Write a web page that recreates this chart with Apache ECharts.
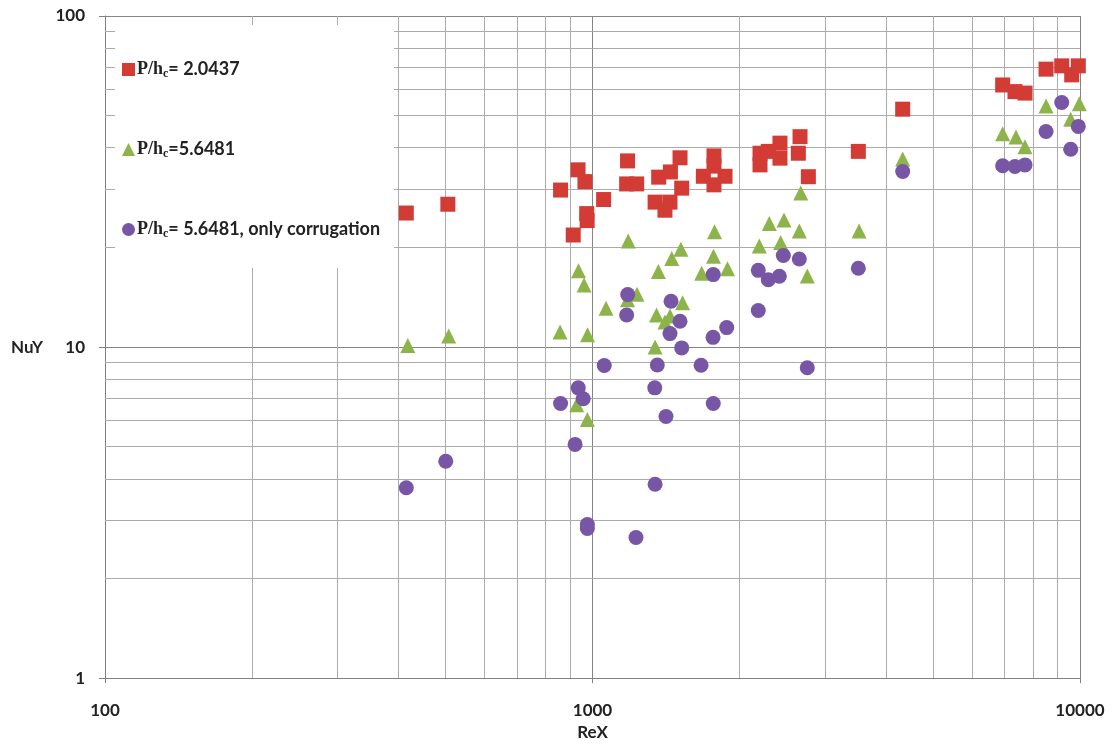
<!DOCTYPE html>
<html>
<head>
<meta charset="utf-8">
<title>NuY vs ReX</title>
<script src="https://cdn.jsdelivr.net/npm/echarts@6/dist/echarts.min.js"></script>
<style>
  html, body { margin: 0; padding: 0; background: #ffffff; }
  #chart { width: 1114px; height: 746px; }
</style>
</head>
<body>
<div id="chart"></div>
<script>
// Series names
const seriesNames = ['P/hc= 2.0437', 'P/hc=5.6481', 'P/hc= 5.6481, only corrugation'];

// P/hc = 2.0437
const reRed = [415, 505, 860, 934, 965, 973, 975, 913, 1054, 1180, 1175, 1232, 1367, 1445, 1512, 1524, 1344, 1442, 1408, 1775, 1775, 1688, 1870, 1775, 2206, 2206, 2424, 2424, 2294, 2665, 2644, 2772, 3510, 4328, 6940, 7355, 7713, 8518, 9173, 9616, 9920];
const nuRed = [25.4, 27.0, 29.8, 34.3, 31.6, 25.3, 24.1, 21.8, 27.9, 36.5, 31.1, 31.1, 32.6, 33.8, 37.3, 30.2, 27.4, 27.4, 25.9, 37.8, 35.2, 32.8, 32.8, 30.9, 38.5, 35.5, 41.3, 37.2, 39.0, 43.2, 38.5, 32.7, 39.0, 52.3, 61.9, 59.1, 58.5, 69.1, 70.7, 66.4, 70.7];

// P/hc = 5.6481
const reGreen = [418, 507, 858, 977, 936, 961, 1066, 1184, 1234, 1180, 1344, 1353, 1365, 1408, 1442, 1454, 1518, 1530, 1675, 1780, 1771, 1892, 928, 976, 2199, 2305, 2471, 2432, 2674, 2656, 2758, 3522, 4328, 6940, 7391, 7713, 8518, 9570, 9968];
const nuGreen = [10.1, 10.8, 11.1, 10.9, 17.0, 15.4, 13.1, 20.9, 14.45, 13.9, 10.0, 12.5, 16.9, 11.9, 12.4, 18.5, 19.75, 13.6, 16.7, 22.3, 18.8, 17.25, 6.7, 6.04, 20.2, 23.6, 24.2, 20.7, 29.2, 22.4, 16.4, 22.4, 37.0, 44.1, 43.1, 40.3, 53.5, 48.8, 54.3];

// P/hc = 5.6481, only corrugation
const rePurple = [415, 500, 860, 935, 957, 921, 976, 976, 1057, 1358, 1342, 1415, 1344, 1228, 1670, 1769, 1524, 1442, 1767, 1885, 1181, 1175, 1449, 1512, 1769, 2188, 2463, 2656, 2294, 2417, 2188, 2758, 3510, 4328, 6940, 7355, 7713, 8518, 9173, 9570, 9920];
const nuPurple = [3.76, 4.52, 6.75, 7.53, 6.98, 5.08, 2.91, 2.83, 8.8, 8.83, 7.53, 6.17, 3.85, 2.66, 8.81, 6.75, 9.94, 10.98, 10.7, 11.45, 14.4, 12.5, 13.75, 11.96, 16.55, 17.05, 18.9, 18.45, 15.98, 16.36, 12.89, 8.66, 17.3, 33.9, 35.3, 35.1, 35.5, 44.8, 54.8, 39.6, 46.4];

// Log-decade minor grid positions
const minorX = [200, 300, 400, 500, 600, 700, 800, 900, 2000, 3000, 4000, 5000, 6000, 7000, 8000, 9000];
const minorY = [2, 3, 4, 5, 6, 7, 8, 9, 20, 30, 40, 50, 60, 70, 80, 90];

const pairs = (xs, ys) => xs.map((x, i) => [x, ys[i]]);

const legendRich = {
  'P/hc= 2.0437': '{p|P/h}{c|c}{v|= 2.0437}',
  'P/hc=5.6481': '{p|P/h}{c|c}{v|=5.6481}',
  'P/hc= 5.6481, only corrugation': '{p|P/h}{c|c}{v|= 5.6481, only corrugation}'
};

const labelFont = 'Lato, "Open Sans", sans-serif';
const majorGrid = '#858585';
const minorGrid = '#ababab';

const chart = echarts.init(document.getElementById('chart'), null, { renderer: 'canvas' });

chart.setOption({
  animation: false,
  backgroundColor: '#ffffff',
  grid: { left: 105, right: 34, top: 16, bottom: 67, containLabel: false },
  legend: {
    data: seriesNames,
    orient: 'vertical',
    left: 115,
    top: 25,
    padding: [34, 14, 28, 7],
    itemGap: 59,
    itemWidth: 13,
    itemHeight: 13,
    backgroundColor: '#ffffff',
    z: 6,
    selectedMode: false,
    formatter: name => legendRich[name],
    textStyle: {
      color: '#222222',
      padding: [0, 0, 0, -3],
      rich: {
        p: { fontFamily: '"Liberation Serif", "DejaVu Serif", serif', fontWeight: 'bold', fontSize: 18, color: '#222222', lineHeight: 20 },
        c: { fontFamily: '"Liberation Serif", "DejaVu Serif", serif', fontWeight: 'bold', fontSize: 12, color: '#222222', padding: [9, 0, 0, 0], lineHeight: 20 },
        v: { fontFamily: labelFont, fontWeight: 'bold', fontSize: 18, color: '#222222', lineHeight: 20 }
      }
    }
  },
  xAxis: {
    type: 'log',
    logBase: 10,
    min: 100,
    max: 10000,
    name: 'ReX',
    nameLocation: 'middle',
    nameGap: 45,
    nameTextStyle: { fontFamily: labelFont, fontWeight: 'bold', fontSize: 17, color: '#222222' },
    axisLine: { show: true, onZero: false, lineStyle: { color: '#808080', width: 1 } },
    axisTick: { show: true, inside: false, length: 5, lineStyle: { color: '#808080' } },
    axisLabel: {
      margin: 24,
      fontFamily: labelFont, fontWeight: 'bold', fontSize: 17, color: '#222222',
      formatter: v => String(Math.round(v))
    },
    splitLine: { show: true, lineStyle: { color: majorGrid, width: 1 } }
  },
  yAxis: {
    type: 'log',
    logBase: 10,
    min: 1,
    max: 100,
    name: 'NuY',
    nameLocation: 'middle',
    nameRotate: 0,
    nameGap: 62,
    nameTextStyle: { fontFamily: labelFont, fontWeight: 'bold', fontSize: 17, color: '#222222' },
    axisLine: { show: true, onZero: false, lineStyle: { color: '#808080', width: 1 } },
    axisTick: { show: true, inside: false, length: 6, lineStyle: { color: '#808080' } },
    axisLabel: {
      margin: 20,
      fontFamily: labelFont, fontWeight: 'bold', fontSize: 17, color: '#222222',
      formatter: v => String(Math.round(v))
    },
    splitLine: { show: true, lineStyle: { color: majorGrid, width: 1 } }
  },
  series: [
    {
      // minor log gridlines
      name: 'minor-grid',
      type: 'scatter',
      data: [],
      z: 1,
      silent: true,
      markLine: {
        silent: true,
        symbol: ['none', 'none'],
        label: { show: false },
        lineStyle: { color: minorGrid, width: 1, type: 'solid' },
        emphasis: { disabled: true },
        data: minorX.map(v => ({ xAxis: v })).concat(minorY.map(v => ({ yAxis: v })))
      }
    },
    {
      name: seriesNames[0],
      type: 'scatter',
      symbol: 'rect',
      symbolSize: 15,
      z: 5,
      itemStyle: { color: '#d23c35', opacity: 1 },
      data: pairs(reRed, nuRed)
    },
    {
      name: seriesNames[1],
      type: 'scatter',
      symbol: 'triangle',
      symbolSize: 15,
      z: 5,
      itemStyle: { color: '#8db44b', opacity: 1 },
      data: pairs(reGreen, nuGreen)
    },
    {
      name: seriesNames[2],
      type: 'scatter',
      symbol: 'circle',
      symbolSize: 15,
      z: 5,
      itemStyle: { color: '#7856a6', opacity: 1 },
      data: pairs(rePurple, nuPurple)
    }
  ]
});
</script>
</body>
</html>
